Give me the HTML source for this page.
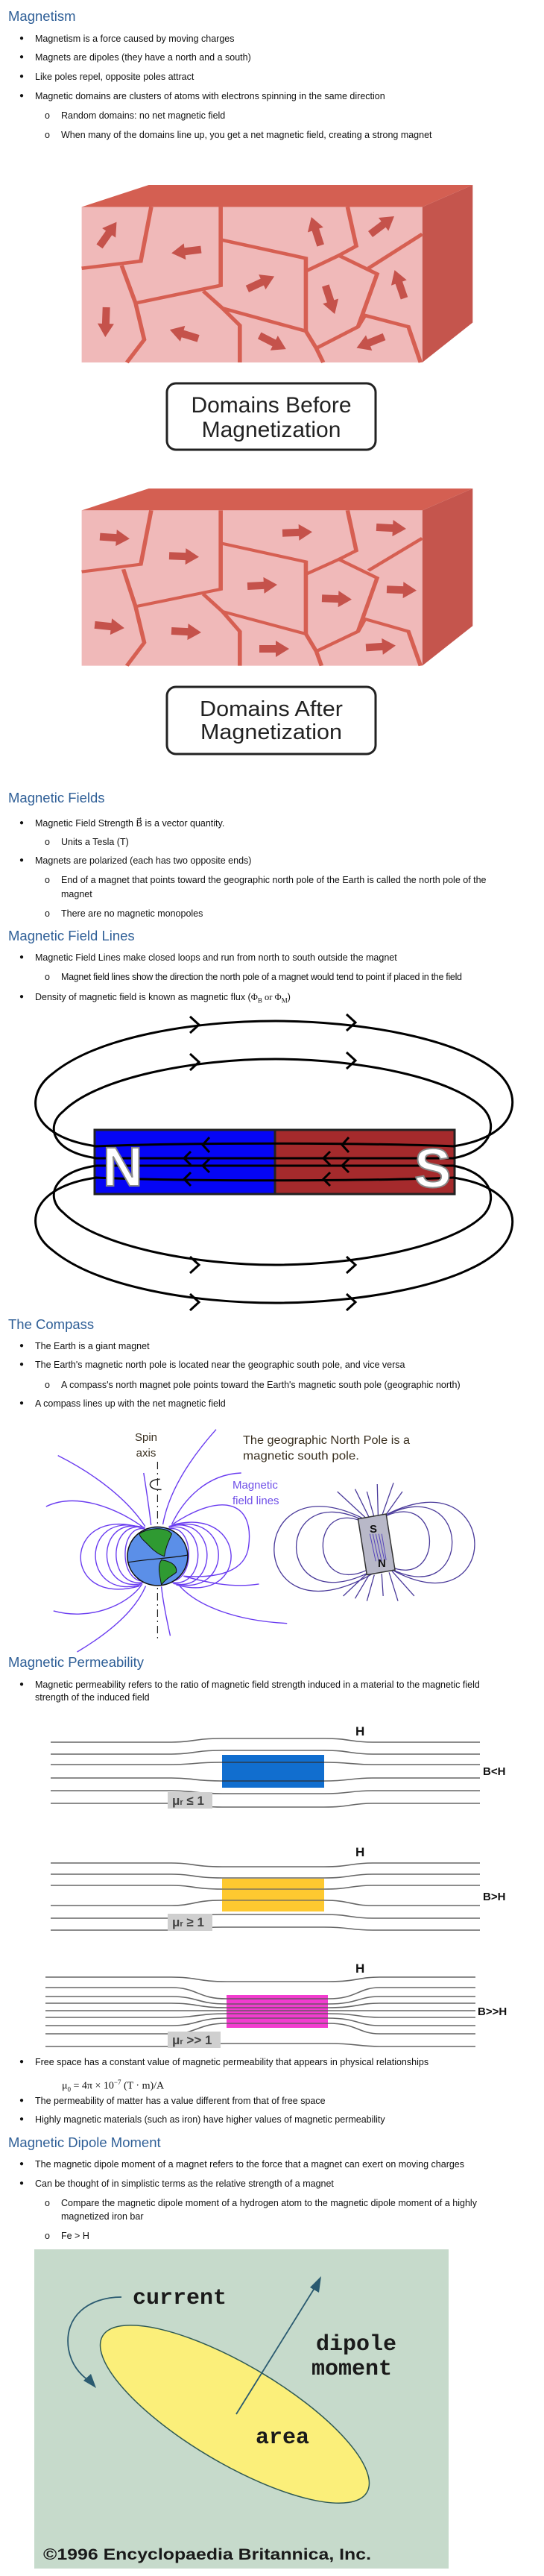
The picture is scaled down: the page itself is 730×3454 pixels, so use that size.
<!DOCTYPE html>
<html><head><meta charset="utf-8"><style>
html,body{margin:0;padding:0;background:#fff}
body{width:730px;height:3454px;position:relative;overflow:hidden;font-family:"Liberation Sans",sans-serif;color:#111}
.t{position:absolute;font-size:12.5px;line-height:16px;white-space:nowrap}
.h{position:absolute;font-size:18.5px;line-height:22px;color:#2f5f97;white-space:nowrap}
.b{position:absolute;font-size:10px;line-height:16px}
svg{position:absolute;left:0;top:0}
</style></head><body>
<svg width="730" height="3454" viewBox="0 0 730 3454" xmlns="http://www.w3.org/2000/svg">
<defs>
<path id="ar" d="M-20,-5 L2,-5 L2,-11 L20,0 L2,11 L2,5 L-20,5Z" fill="#c5524b"/>
</defs>
<!-- Block 1 -->
<g transform="scale(0.4664,0.3827)">
<polygon points="235,725 428,648 1360,648 1215,725" fill="#d45f52"/>
<polygon points="1215,725 1360,648 1360,1130 1215,1270" fill="#c5554d"/>
<rect x="235" y="725" width="980" height="545" fill="#f0b9b9"/>
<g fill="none" stroke="#d65f52" stroke-width="12" stroke-linejoin="miter">
<polyline points="435,725 405,915 235,940"/>
<polyline points="350,930 390,1062 415,1190 365,1270"/>
<polyline points="635,725 635,1000 390,1062"/>
<polyline points="635,840 880,905 880,1160 640,1080 585,1020"/>
<polyline points="640,1080 690,1140 690,1270"/>
<polyline points="880,1160 910,1220 930,1270"/>
<polyline points="910,1220 1030,1145 1050,1105 1175,1145 1210,1270"/>
<polyline points="880,950 975,895 1085,960 1030,1145"/>
<polyline points="975,895 1025,862 1000,725"/>
<polyline points="1060,940 1215,820"/>
</g></g>
<use href="#ar" transform="translate(145,314) rotate(-55)"/>
<use href="#ar" transform="translate(250,337) rotate(173)"/>
<use href="#ar" transform="translate(424,310) rotate(-108)"/>
<use href="#ar" transform="translate(513,302) rotate(-37)"/>
<use href="#ar" transform="translate(350,379) rotate(-25)"/>
<use href="#ar" transform="translate(443,402) rotate(72)"/>
<use href="#ar" transform="translate(536,381) rotate(-109)"/>
<use href="#ar" transform="translate(142,432) rotate(92)"/>
<use href="#ar" transform="translate(247,448) rotate(197)"/>
<use href="#ar" transform="translate(366,459) rotate(27)"/>
<use href="#ar" transform="translate(497,459) rotate(158)"/>
<rect x="224" y="514" width="280" height="89" rx="12" fill="#fff" stroke="#222" stroke-width="3"/>
<text x="364" y="553" font-size="30" text-anchor="middle" fill="#222">Domains Before</text>
<text x="364" y="586" font-size="30" text-anchor="middle" fill="#222">Magnetization</text>
<!-- Block 2 -->
<g transform="translate(0,600) scale(0.4664,0.3333)">
<polygon points="235,253 428,165 1360,165 1215,253" fill="#d45f52"/>
<polygon points="1215,253 1360,165 1360,718 1215,878" fill="#c5554d"/>
<rect x="235" y="253" width="980" height="625" fill="#f0b9b9"/>
<g fill="none" stroke="#d65f52" stroke-width="12">
<polyline points="435,253 405,470 235,500"/>
<polyline points="355,490 390,640 415,785 365,878"/>
<polyline points="635,253 635,570 390,640"/>
<polyline points="635,385 880,460 880,750 640,660 585,590"/>
<polyline points="640,660 690,740 690,878"/>
<polyline points="880,750 910,820 925,878"/>
<polyline points="910,820 1030,740 1050,690 1175,740 1210,878"/>
<polyline points="880,510 975,450 1085,525 1030,740"/>
<polyline points="975,450 1025,415 1000,253"/>
<polyline points="1060,495 1215,365"/>
</g></g>
<use href="#ar" transform="translate(154,721) rotate(4)"/>
<use href="#ar" transform="translate(247,746) rotate(2)"/>
<use href="#ar" transform="translate(399,714) rotate(-2)"/>
<use href="#ar" transform="translate(525,708) rotate(3)"/>
<use href="#ar" transform="translate(352,785) rotate(-3)"/>
<use href="#ar" transform="translate(452,803) rotate(2)"/>
<use href="#ar" transform="translate(539,791) rotate(2)"/>
<use href="#ar" transform="translate(147,840) rotate(6)"/>
<use href="#ar" transform="translate(250,847) rotate(3)"/>
<use href="#ar" transform="translate(368,870) rotate(0)"/>
<use href="#ar" transform="translate(511,867) rotate(-4)"/>
<rect x="224" y="921" width="280" height="90" rx="12" fill="#fff" stroke="#222" stroke-width="3"/>
<text x="364" y="960" font-size="29" text-anchor="middle" fill="#222" textLength="192" lengthAdjust="spacingAndGlyphs">Domains After</text>
<text x="364" y="991" font-size="29" text-anchor="middle" fill="#222" textLength="190" lengthAdjust="spacingAndGlyphs">Magnetization</text>

<!-- Bar magnet -->
<rect x="127" y="1515" width="242" height="86" fill="#0505f5" stroke="#222" stroke-width="3"/>
<rect x="369" y="1515" width="241" height="86" fill="#a52a2c" stroke="#222" stroke-width="3"/>
<g fill="none" stroke="#000" stroke-width="3">
<path d="M130,1537 C40,1525 30,1470 70,1440 C130,1390 260,1369 370,1369 C480,1369 620,1392 670,1440 C705,1475 690,1525 608,1537"/>
<path d="M130,1553 C70,1545 60,1510 85,1490 C130,1445 260,1420 370,1420 C480,1420 610,1445 650,1488 C670,1512 655,1545 608,1553"/>
<path d="M130,1579 C40,1591 30,1646 70,1676 C130,1726 260,1747 370,1747 C480,1747 620,1724 670,1676 C705,1641 690,1591 608,1579"/>
<path d="M130,1563 C70,1571 60,1606 85,1626 C130,1671 260,1696 370,1696 C480,1696 610,1671 650,1628 C670,1604 655,1571 608,1563"/>
<path d="M127,1537 C250,1532 480,1532 610,1537"/>
<path d="M127,1553 L610,1553"/>
<path d="M127,1563 L610,1563"/>
<path d="M127,1579 C250,1584 480,1584 610,1579"/>
<path d="M255,1363 L267,1374 L255,1385 M465,1360 L477,1371 L465,1382"/>
<path d="M255,1413 L267,1424 L255,1435 M465,1411 L477,1422 L465,1433"/>
<path d="M255,1685 L267,1696 L255,1707 M465,1685 L477,1696 L465,1707"/>
<path d="M255,1735 L267,1746 L255,1757 M465,1735 L477,1746 L465,1757"/>
<path d="M281,1525 L272,1535 L281,1545 M468,1525 L459,1535 L468,1545"/>
<path d="M256,1544 L247,1553 L256,1562 M443,1544 L434,1553 L443,1562"/>
<path d="M281,1554 L272,1563 L281,1572 M468,1554 L459,1563 L468,1572"/>
<path d="M256,1572 L247,1581 L256,1590 M443,1572 L434,1581 L443,1590"/>
</g>
<text x="138" y="1590" font-size="74" font-weight="bold" fill="#fff" stroke="#888" stroke-width="2">N</text>
<text x="556" y="1592" font-size="74" font-weight="bold" fill="#fff" stroke="#888" stroke-width="2">S</text>

<!-- Compass figure -->
<g transform="translate(40,1900) scale(0.3968,0.3333)">
<g fill="none" stroke="#6a3cf0" stroke-width="1.4" vector-effect="non-scaling-stroke">
<path vector-effect="non-scaling-stroke" d="M470,450 C560,430 560,670 470,660"/>
<path vector-effect="non-scaling-stroke" d="M470,445 C600,410 600,690 480,665"/>
<path vector-effect="non-scaling-stroke" d="M470,440 C640,390 640,710 485,670"/>
<path vector-effect="non-scaling-stroke" d="M475,440 C690,370 690,730 490,670"/>
<path vector-effect="non-scaling-stroke" d="M480,435 C740,350 750,760 495,675"/>
<path vector-effect="non-scaling-stroke" d="M485,430 C650,300 760,340 740,520 C730,620 640,650 520,640"/>
<path vector-effect="non-scaling-stroke" d="M390,450 C300,430 300,670 390,660"/>
<path vector-effect="non-scaling-stroke" d="M390,445 C260,410 260,690 385,665"/>
<path vector-effect="non-scaling-stroke" d="M385,445 C220,390 220,710 380,670"/>
<path vector-effect="non-scaling-stroke" d="M380,445 C170,370 170,740 375,675"/>
<path vector-effect="non-scaling-stroke" d="M375,445 C110,350 100,770 370,680"/>
<path vector-effect="non-scaling-stroke" d="M95,155 C220,230 330,330 390,440"/>
<path vector-effect="non-scaling-stroke" d="M385,225 C395,300 405,380 410,435"/>
<path vector-effect="non-scaling-stroke" d="M630,50 C540,170 470,300 450,432"/>
<path vector-effect="non-scaling-stroke" d="M715,225 C600,230 520,330 480,432"/>
<path vector-effect="non-scaling-stroke" d="M55,360 C160,300 300,370 385,445"/>
<path vector-effect="non-scaling-stroke" d="M80,780 C200,820 330,760 380,672"/>
<path vector-effect="non-scaling-stroke" d="M160,945 C280,860 360,770 392,680"/>
<path vector-effect="non-scaling-stroke" d="M475,880 C460,800 450,740 445,682"/>
<path vector-effect="non-scaling-stroke" d="M870,830 C700,820 560,760 500,670"/>
<path vector-effect="non-scaling-stroke" d="M775,672 C680,690 580,660 520,640"/>
</g>
<path d="M432,180 L432,890" stroke="#222" stroke-width="1.2" stroke-dasharray="10,5,2,5" vector-effect="non-scaling-stroke"/>
<path d="M440,250 C395,250 395,295 445,292" fill="none" stroke="#222" stroke-width="1.5" vector-effect="non-scaling-stroke"/>
<ellipse cx="432" cy="560" rx="102" ry="118" fill="#5b8fe8" stroke="#111" stroke-width="1.5" vector-effect="non-scaling-stroke"/>
<path d="M370,470 C400,445 460,440 480,470 C470,500 460,520 455,560 C440,555 420,540 405,520 C390,500 375,490 370,470Z" fill="#2f9a32" stroke="#111" stroke-width="1" vector-effect="non-scaling-stroke"/>
<path d="M445,575 C480,580 500,600 495,625 C480,640 460,650 445,675 C440,640 430,600 445,575Z" fill="#2f9a32" stroke="#111" stroke-width="1" vector-effect="non-scaling-stroke"/>
<path d="M330,585 C400,570 470,570 535,555" fill="none" stroke="#111" stroke-width="1.2" vector-effect="non-scaling-stroke"/>
<!-- right magnet -->
<g fill="none" stroke="#4a3a9a" stroke-width="1.3">
<path vector-effect="non-scaling-stroke" d="M1140,430 C940,300 940,740 1150,610"/>
<path vector-effect="non-scaling-stroke" d="M1135,420 C820,230 820,830 1155,620"/>
<path vector-effect="non-scaling-stroke" d="M1130,410 C720,160 720,930 1160,630"/>
<path vector-effect="non-scaling-stroke" d="M1200,400 C1400,290 1400,700 1215,600"/>
<path vector-effect="non-scaling-stroke" d="M1205,395 C1500,220 1500,780 1220,610"/>
<path vector-effect="non-scaling-stroke" d="M1210,390 C1600,160 1600,860 1225,615"/>
<path vector-effect="non-scaling-stroke" d="M1100,290 L1150,410 M1140,300 L1165,405 M1175,270 L1178,400 M1230,265 L1190,400 M1040,300 L1140,410 M1260,300 L1200,400"/>
<path vector-effect="non-scaling-stroke" d="M1100,730 L1150,630 M1140,740 L1165,635 M1195,720 L1190,630 M1245,740 L1215,625 M1300,720 L1225,620 M1060,720 L1140,630"/>
</g>
<polygon points="1110,410 1205,390 1235,615 1140,635" fill="#b8b8c8" stroke="#333" stroke-width="1.5" vector-effect="non-scaling-stroke"/>
<path d="M1150,470 L1170,580 M1160,470 L1180,580 M1170,470 L1190,580 M1180,470 L1200,580 M1190,470 L1205,575" stroke="#5544bb" stroke-width="1" vector-effect="non-scaling-stroke"/>
</g>
<text x="196" y="1932" font-size="15" fill="#3a3020" text-anchor="middle">Spin</text>
<text x="196" y="1953" font-size="15" fill="#3a3020" text-anchor="middle">axis</text>
<text x="326" y="1936" font-size="16" fill="#3a3020" textLength="224" lengthAdjust="spacingAndGlyphs">The geographic North Pole is a</text>
<text x="326" y="1957" font-size="16" fill="#3a3020" textLength="156" lengthAdjust="spacingAndGlyphs">magnetic south pole.</text>
<text x="312" y="1996" font-size="15" fill="#7050e8">Magnetic</text>
<text x="312" y="2017" font-size="15" fill="#7050e8">field lines</text>
<text x="496" y="2055" font-size="15" font-weight="bold" fill="#111">S</text>
<text x="507" y="2101" font-size="15" font-weight="bold" fill="#111">N</text>

<!-- Permeability diagrams -->
<g fill="none" stroke="#666" stroke-width="1.6">
<path d="M68,2336 L230,2336 C260,2336 260,2331 298,2331 L435,2331 C470,2331 470,2336 500,2336 L644,2336"/>
<path d="M68,2352 L230,2352 C260,2352 260,2347 298,2347 L435,2347 C470,2347 470,2352 500,2352 L644,2352"/>
<path d="M68,2366 L230,2366 C260,2366 260,2363 298,2363 L435,2363 C470,2363 470,2366 500,2366 L644,2366"/>
<path d="M68,2384 L230,2384 C260,2384 260,2388 298,2388 L435,2388 C470,2388 470,2384 500,2384 L644,2384"/>
<path d="M68,2401 L230,2401 C260,2401 260,2405 298,2405 L435,2405 C470,2405 470,2401 500,2401 L644,2401"/>
<path d="M68,2418 L230,2418 C260,2418 260,2423 298,2423 L435,2423 C470,2423 470,2418 500,2418 L644,2418"/>
<path d="M68,2498 L230,2498 C260,2498 260,2503 298,2503 L435,2503 C470,2503 470,2498 500,2498 L644,2498"/>
<path d="M68,2513 L230,2513 C260,2513 260,2518 298,2518 L435,2518 C470,2518 470,2513 500,2513 L644,2513"/>
<path d="M68,2528 L230,2528 C260,2528 260,2533 298,2533 L435,2533 C470,2533 470,2528 500,2528 L644,2528"/>
<path d="M68,2555 L230,2555 C260,2555 260,2548 298,2548 L435,2548 C470,2548 470,2555 500,2555 L644,2555"/>
<path d="M68,2572 L230,2572 C260,2572 260,2567 298,2567 L435,2567 C470,2567 470,2572 500,2572 L644,2572"/>
<path d="M68,2588 L230,2588 C260,2588 260,2584 298,2584 L435,2584 C470,2584 470,2588 500,2588 L644,2588"/>
<path d="M61,2651 L230,2651 C265,2651 265,2657 304,2657 L440,2657 C480,2657 480,2651 510,2651 L638,2651"/>
<path d="M61,2665 L230,2665 C265,2665 265,2680 304,2680 L440,2680 C480,2680 480,2665 510,2665 L638,2665"/>
<path d="M61,2677 L230,2677 C265,2677 265,2687 304,2687 L440,2687 C480,2687 480,2677 510,2677 L638,2677"/>
<path d="M61,2686 L230,2686 C265,2686 265,2692 304,2692 L440,2692 C480,2692 480,2686 510,2686 L638,2686"/>
<path d="M61,2696 L638,2696"/>
<path d="M61,2705 L230,2705 C265,2705 265,2700 304,2700 L440,2700 C480,2700 480,2705 510,2705 L638,2705"/>
<path d="M61,2716 L230,2716 C265,2716 265,2706 304,2706 L440,2706 C480,2706 480,2716 510,2716 L638,2716"/>
<path d="M61,2727 L230,2727 C265,2727 265,2713 304,2713 L440,2713 C480,2713 480,2727 510,2727 L638,2727"/>
<path d="M61,2744 L230,2744 C265,2744 265,2740 304,2740 L440,2740 C480,2740 480,2744 510,2744 L638,2744"/>
</g>
<rect x="298" y="2353" width="137" height="44" fill="#0466cc" fill-opacity="0.95"/>
<path d="M298,2363 L435,2363 M298,2388 L435,2388" stroke="#333" stroke-width="1.2"/>
<rect x="298" y="2519" width="137" height="44" fill="#fec930"/>
<path d="M298,2533 L435,2533 M298,2548 L435,2548" stroke="#666" stroke-width="1.2"/>
<rect x="304" y="2675" width="136" height="44" fill="#f23ccf"/>
<path d="M304,2680 L440,2680 M304,2687 L440,2687 M304,2692 L440,2692 M304,2696 L440,2696 M304,2700 L440,2700 M304,2706 L440,2706 M304,2713 L440,2713" stroke="#555" stroke-width="1.2"/>
<rect x="225" y="2403" width="60" height="22" fill="#cfcfcf"/>
<rect x="225" y="2566" width="60" height="23" fill="#cfcfcf"/>
<rect x="225" y="2724" width="71" height="22" fill="#cfcfcf"/>
<g font-weight="bold" fill="#444" font-size="17">
<text x="231" y="2420">μ<tspan font-size="11">r</tspan> ≤ 1</text>
<text x="231" y="2583">μ<tspan font-size="11">r</tspan> ≥ 1</text>
<text x="231" y="2741">μ<tspan font-size="11">r</tspan> &gt;&gt; 1</text>
</g>
<g font-weight="bold" fill="#111" font-size="17">
<text x="477" y="2327">H</text><text x="477" y="2489">H</text><text x="477" y="2645">H</text>
</g>
<g font-weight="bold" fill="#111" font-size="15">
<text x="648" y="2380">B&lt;H</text><text x="648" y="2548">B&gt;H</text><text x="641" y="2702">B&gt;&gt;H</text>
</g>

<!-- Dipole image -->
<rect x="46" y="3016" width="556" height="428" fill="#c6dacb"/>
<ellipse cx="315" cy="3237" rx="206" ry="66" transform="rotate(30.6 315 3237)" fill="#fbef7a" stroke="#2f5a55" stroke-width="1.5"/>
<path d="M317,3237 L427,3060" stroke="#2a5a70" stroke-width="1.8"/>
<polygon points="431,3052 428,3074 416,3067" fill="#2a5a70"/>
<path d="M163,3080 C120,3080 85,3105 92,3150 C96,3172 108,3185 122,3194" fill="none" stroke="#2a5a70" stroke-width="1.8"/>
<polygon points="129,3202 112,3192 122,3183" fill="#2a5a70"/>
<g font-family="'Liberation Mono',monospace" font-weight="bold" fill="#1a1a1a">
<text x="178" y="3089" font-size="30">current</text>
<text x="424" y="3151" font-size="30">dipole</text>
<text x="418" y="3184" font-size="30">moment</text>
<text x="343" y="3276" font-size="30">area</text>
</g>
<text x="58" y="3432" font-size="21" font-weight="bold" fill="#1a1a1a" textLength="440" lengthAdjust="spacingAndGlyphs">©1996 Encyclopaedia Britannica, Inc.</text>
</svg>

<div class="h" style="left:11px;top:11px">Magnetism</div>
<div class="b" style="left:26px;top:44px">●</div><div class="t" style="left:47px;top:44px">Magnetism is a force caused by moving charges</div>
<div class="b" style="left:26px;top:69px">●</div><div class="t" style="left:47px;top:69px">Magnets are dipoles (they have a north and a south)</div>
<div class="b" style="left:26px;top:95px">●</div><div class="t" style="left:47px;top:95px">Like poles repel, opposite poles attract</div>
<div class="b" style="left:26px;top:121px">●</div><div class="t" style="left:47px;top:121px">Magnetic domains are clusters of atoms with electrons spinning in the same direction</div>
<div class="t" style="left:60px;top:147px">o</div><div class="t" style="left:82px;top:147px">Random domains: no net magnetic field</div>
<div class="t" style="left:60px;top:173px">o</div><div class="t" style="left:82px;top:173px">When many of the domains line up, you get a net magnetic field, creating a strong magnet</div>

<div class="h" style="left:11px;top:1059px">Magnetic Fields</div>
<div class="b" style="left:26px;top:1096px">●</div><div class="t" style="left:47px;top:1096px">Magnetic Field Strength <span style="font-family:'Liberation Serif',serif">B&#8407;</span> is a vector quantity.</div>
<div class="t" style="left:60px;top:1121px">o</div><div class="t" style="left:82px;top:1121px">Units a Tesla (T)</div>
<div class="b" style="left:26px;top:1146px">●</div><div class="t" style="left:47px;top:1146px">Magnets are polarized (each has two opposite ends)</div>
<div class="t" style="left:60px;top:1172px">o</div><div class="t" style="left:82px;top:1172px">End of a magnet that points toward the geographic north pole of the Earth is called the north pole of the</div>
<div class="t" style="left:82px;top:1191px">magnet</div>
<div class="t" style="left:60px;top:1217px">o</div><div class="t" style="left:82px;top:1217px">There are no magnetic monopoles</div>

<div class="h" style="left:11px;top:1244px">Magnetic Field Lines</div>
<div class="b" style="left:26px;top:1276px">●</div><div class="t" style="left:47px;top:1276px">Magnetic Field Lines make closed loops and run from north to south outside the magnet</div>
<div class="t" style="left:60px;top:1302px">o</div><div class="t" style="left:82px;top:1302px;letter-spacing:-0.3px">Magnet field lines show the direction the north pole of a magnet would tend to point if placed in the field</div>
<div class="b" style="left:26px;top:1329px">●</div><div class="t" style="left:47px;top:1329px">Density of magnetic field is known as magnetic flux (<span style="font-family:'Liberation Serif',serif">Φ<sub style="font-size:9px">B</sub> or Φ<sub style="font-size:9px">M</sub></span>)</div>

<div class="h" style="left:11px;top:1765px">The Compass</div>
<div class="b" style="left:26px;top:1797px">●</div><div class="t" style="left:47px;top:1797px">The Earth is a giant magnet</div>
<div class="b" style="left:26px;top:1822px">●</div><div class="t" style="left:47px;top:1822px">The Earth's magnetic north pole is located near the geographic south pole, and vice versa</div>
<div class="t" style="left:60px;top:1849px">o</div><div class="t" style="left:82px;top:1849px">A compass's north magnet pole points toward the Earth's magnetic south pole (geographic north)</div>
<div class="b" style="left:26px;top:1874px">●</div><div class="t" style="left:47px;top:1874px">A compass lines up with the net magnetic field</div>

<div class="h" style="left:11px;top:2218px">Magnetic Permeability</div>
<div class="b" style="left:26px;top:2251px">●</div><div class="t" style="left:47px;top:2251px">Magnetic permeability refers to the ratio of magnetic field strength induced in a material to the magnetic field</div>
<div class="t" style="left:47px;top:2268px">strength of the induced field</div>
<div class="b" style="left:26px;top:2757px">●</div><div class="t" style="left:47px;top:2757px">Free space has a constant value of magnetic permeability that appears in physical relationships</div>
<div class="t" style="left:83px;top:2784px;font-family:'Liberation Serif',serif;font-size:14px">μ<sub style="font-size:9px">0</sub> = 4π × 10<sup style="font-size:9px">−7</sup> (T · m)/A</div>
<div class="b" style="left:26px;top:2809px">●</div><div class="t" style="left:47px;top:2809px">The permeability of matter has a value different from that of free space</div>
<div class="b" style="left:26px;top:2834px">●</div><div class="t" style="left:47px;top:2834px">Highly magnetic materials (such as iron) have higher values of magnetic permeability</div>

<div class="h" style="left:11px;top:2862px">Magnetic Dipole Moment</div>
<div class="b" style="left:26px;top:2894px">●</div><div class="t" style="left:47px;top:2894px">The magnetic dipole moment of a magnet refers to the force that a magnet can exert on moving charges</div>
<div class="b" style="left:26px;top:2920px">●</div><div class="t" style="left:47px;top:2920px">Can be thought of in simplistic terms as the relative strength of a magnet</div>
<div class="t" style="left:60px;top:2946px">o</div><div class="t" style="left:82px;top:2946px">Compare the magnetic dipole moment of a hydrogen atom to the magnetic dipole moment of a highly</div>
<div class="t" style="left:82px;top:2964px">magnetized iron bar</div>
<div class="t" style="left:60px;top:2990px">o</div><div class="t" style="left:82px;top:2990px">Fe &gt; H</div>
</body></html>
